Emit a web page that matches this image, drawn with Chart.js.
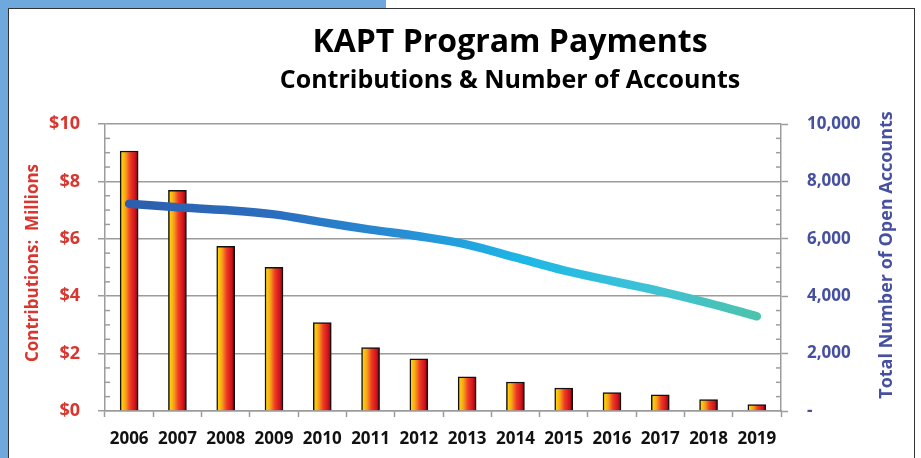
<!DOCTYPE html>
<html>
<head>
<meta charset="utf-8">
<script src="https://cdn.jsdelivr.net/npm/chart.js@4/dist/chart.umd.min.js"></script>
<style>
  html, body { margin: 0; padding: 0; background: #ffffff; overflow: hidden; }
  #bluetop { position: absolute; left: 0; top: 0; width: 386px; height: 8px; background: #6FA8DC; }
  #blueleft { position: absolute; left: 0; top: 0; width: 8px; height: 458px; background: #6FA8DC; }
  #frame { position: absolute; left: 8px; top: 8px; width: 905px; height: 460px;
           border-left: 1.5px solid #333; border-top: 1.5px solid #333; border-right: 1.5px solid #333; background: #fff; }
  #wrap { position: absolute; left: 0; top: 0; width: 921px; height: 458px; }
</style>
</head>
<body>
<div id="bluetop"></div>
<div id="blueleft"></div>
<div id="frame"></div>
<div id="wrap"><canvas id="c" width="921" height="458"></canvas></div>
<script>
const years = ['2006','2007','2008','2009','2010','2011','2012','2013','2014','2015','2016','2017','2018','2019'];
const contributions = [9.06, 7.69, 5.74, 5.01, 3.08, 2.21, 1.82, 1.19, 1.01, 0.80, 0.64, 0.56, 0.40, 0.22];
const openAccounts = [7220, 7100, 7000, 6850, 6580, 6320, 6090, 5800, 5350, 4900, 4530, 4170, 3760, 3300];
const leftTickLabels = ['$0','$2','$4','$6','$8','$10'];
const rightTickLabels = ['-','2,000','4,000','6,000','8,000','10,000'];
const titleText = 'KAPT Program Payments';
const subtitleText = 'Contributions & Number of Accounts';
const leftAxisTitle = 'Contributions:  Millions';
const rightAxisTitle = 'Total Number of Open Accounts';

const FONT = '"Open Sans", Lato, sans-serif';
const GRID = '#9c9c9c';
const RED = '#D8362E';
const BLUE = '#4650A0';
const BAR_W = 18;

function barGradient(ctx) {
  const chart = ctx.chart;
  if (!chart.chartArea || ctx.dataIndex === undefined) return '#E8202A';
  const cx = chart.scales.x.getPixelForValue(ctx.dataIndex);
  const g = chart.ctx.createLinearGradient(cx - BAR_W / 2, 0, cx + BAR_W / 2, 0);
  g.addColorStop(0, '#FFE600');
  g.addColorStop(0.3, '#F8A01C');
  g.addColorStop(0.55, '#EE3B24');
  g.addColorStop(0.82, '#D0121E');
  g.addColorStop(1, '#6A0808');
  return g;
}

function lineGradient(ctx) {
  const chart = ctx.chart;
  const ca = chart.chartArea;
  if (!ca) return '#2B5FAD';
  const g = chart.ctx.createLinearGradient(ca.left, 0, ca.right, 0);
  g.addColorStop(0.0, '#2D5CAA');
  g.addColorStop(0.25, '#2B6EBF');
  g.addColorStop(0.45, '#2690D6');
  g.addColorStop(0.62, '#1DB7E6');
  g.addColorStop(0.8, '#3EC2D6');
  g.addColorStop(1.0, '#4FC3A4');
  return g;
}

const decorPlugin = {
  id: 'decor',
  afterDraw(chart) {
    const c = chart.ctx;
    const yl = chart.scales.y;
    const yr = chart.scales.y2;
    const ca = chart.chartArea;
    c.save();
    // minor ticks inside the axes
    c.strokeStyle = GRID;
    c.lineWidth = 1.5;
    for (let v = 0.5; v < 10; v += 0.5) {
      if (Math.abs(v % 2) < 1e-9) continue;
      const py = yl.getPixelForValue(v);
      c.beginPath(); c.moveTo(ca.left, py); c.lineTo(ca.left + 5, py); c.stroke();
    }
    for (let v = 500; v < 10000; v += 500) {
      if (v % 2000 === 0) continue;
      const py = yr.getPixelForValue(v);
      c.beginPath(); c.moveTo(ca.right - 5, py); c.lineTo(ca.right, py); c.stroke();
    }
    // titles
    c.fillStyle = '#000';
    c.textAlign = 'center';
    c.textBaseline = 'alphabetic';
    c.font = 'bold 32px ' + FONT;
    c.fillText(titleText, 510, 52);
    c.font = 'bold 25px ' + FONT;
    c.fillText(subtitleText, 510, 88);
    // axis titles (both read bottom-to-top)
    c.font = 'bold 17px ' + FONT;
    c.fillStyle = RED;
    c.translate(33, 263); c.rotate(-Math.PI / 2);
    c.textBaseline = 'middle';
    c.fillText(leftAxisTitle, 0, 0);
    c.setTransform(1, 0, 0, 1, 0, 0);
    c.font = 'bold 18px ' + FONT;
    c.fillStyle = BLUE;
    c.translate(887, 255); c.rotate(-Math.PI / 2);
    c.fillText(rightAxisTitle, 0, 0);
    c.restore();
  }
};

new Chart(document.getElementById('c'), {
  data: {
    labels: years,
    datasets: [
      {
        type: 'line',
        label: 'Open Accounts',
        data: openAccounts,
        yAxisID: 'y2',
        borderColor: lineGradient,
        borderWidth: 8.5,
        borderCapStyle: 'round',
        borderJoinStyle: 'round',
        tension: 0.35,
        pointRadius: 0,
        fill: false,
        order: 0
      },
      {
        type: 'bar',
        label: 'Contributions',
        data: contributions,
        yAxisID: 'y',
        backgroundColor: barGradient,
        borderColor: '#111',
        borderWidth: 1.5,
        barThickness: BAR_W,
        order: 1
      }
    ]
  },
  options: {
    responsive: false,
    animation: false,
    layout: { padding: { top: 124, left: 0, right: 0, bottom: 0 } },
    plugins: { legend: { display: false }, tooltip: { enabled: false }, title: { display: false } },
    scales: {
      x: {
        afterFit(s) { s.height = 47; },
        grid: { offset: true, drawOnChartArea: false, drawTicks: true, tickLength: 6, tickColor: GRID, tickWidth: 1.5 },
        border: { display: true, color: GRID, width: 1.5 },
        ticks: { color: '#111', font: { family: FONT, size: 17, weight: 'bold' }, padding: 12, maxRotation: 0, autoSkip: false }
      },
      y: {
        position: 'left',
        min: 0, max: 10,
        afterFit(s) { s.width = 105; },
        ticks: {
          stepSize: 2,
          color: RED,
          font: { family: FONT, size: 18, weight: 'bold' },
          padding: 18,
          callback: (v, i) => leftTickLabels[i]
        },
        grid: { color: GRID, lineWidth: 1.5, tickLength: 7, tickColor: GRID, tickWidth: 1.5 },
        border: { display: true, color: GRID, width: 1.5 }
      },
      y2: {
        position: 'right',
        min: 0, max: 10000,
        afterFit(s) { s.width = 140; },
        ticks: {
          stepSize: 2000,
          color: BLUE,
          font: { family: FONT, size: 17, weight: 'bold' },
          padding: 19,
          callback: (v, i) => rightTickLabels[i]
        },
        grid: { drawOnChartArea: false, tickLength: 7, tickColor: GRID, tickWidth: 1.5 },
        border: { display: true, color: GRID, width: 1.5 }
      }
    }
  },
  plugins: [decorPlugin]
});
</script>
</body>
</html>
